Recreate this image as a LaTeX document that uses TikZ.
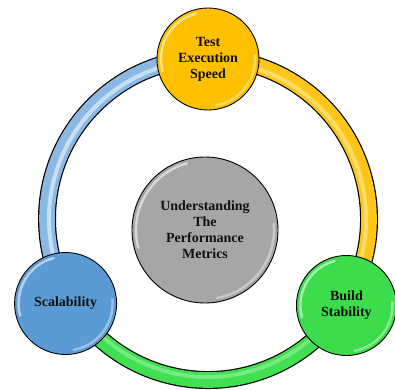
\documentclass[tikz,border=0pt]{standalone}
\usepackage{fontspec}
\setmainfont{Liberation Serif}
\usetikzlibrary{calc}
\definecolor{goldfill}{HTML}{FFC000}
\definecolor{goldring}{HTML}{FFC61A}
\definecolor{goldshine}{HTML}{FFE680}
\definecolor{greenfill}{HTML}{3CDC4C}
\definecolor{greenring}{HTML}{40E050}
\definecolor{greenshine}{HTML}{A8F5B0}
\definecolor{bluefill}{HTML}{5B9BD5}
\definecolor{bluering}{HTML}{8CB8E4}
\definecolor{blueshine}{HTML}{DDEBF8}
\definecolor{grayfill}{HTML}{A6A6A6}
\definecolor{inktext}{HTML}{101010}
\begin{document}
\begin{tikzpicture}[x=1pt,y=1pt,
  ballnode/.style={circle, draw=black, line width=0.9pt, minimum size=102pt,
    inner sep=0pt, align=center, text=inktext,
    font=\fontsize{14}{16}\selectfont\bfseries},
  hubnode/.style={ballnode, minimum size=146pt},
  ringedge/.style={line width=18pt, draw=black},
  ringfill/.style={line width=15.6pt},
  ringshine/.style={line width=4pt, opacity=0.75},
  gloss/.style={draw=white, line width=2.4pt, line cap=round, opacity=0.55}]
\useasboundingbox (0,0) rectangle (395,389);

% ring centre and the three satellite positions on it
\coordinate (ringc) at (208,170);
\path (ringc) ++(90:161) coordinate (ctop);
\path (ringc) ++(210:161) coordinate (cleft);
\path (ringc) ++(330:161) coordinate (cright);

% ring: blue on the left, gold on the right, green along the bottom
\draw[ringedge] (ctop) arc[start angle=90, end angle=210, radius=161];
\draw[ringfill, bluering] (ctop) arc[start angle=90, end angle=210, radius=161];
\draw[ringshine, blueshine] (ringc) ++(100:159) arc[start angle=100, end angle=200, radius=159];

\draw[ringedge] (cright) arc[start angle=-30, end angle=90, radius=161];
\draw[ringfill, goldring] (cright) arc[start angle=-30, end angle=90, radius=161];
\draw[ringshine, goldshine] (ringc) ++(-20:158) arc[start angle=-20, end angle=80, radius=158];

\draw[ringedge] (cleft) arc[start angle=210, end angle=330, radius=161];
\draw[ringfill, greenring] (cleft) arc[start angle=210, end angle=330, radius=161];
\draw[ringshine, greenshine, opacity=0.5] (ringc) ++(220:158) arc[start angle=220, end angle=320, radius=158];

% the four discs
\node[ballnode, fill=goldfill] (speed) at ($(ctop)+(0,-1)$) {Test\\Execution\\Speed};
\node[ballnode, fill=bluefill] (scale) at ($(cleft)+(-3,-4)$) {Scalability};
\node[ballnode, fill=greenfill, minimum size=100pt] (build) at ($(cright)+(-1,-6)$) {Build\\Stability};
\node[hubnode, fill=grayfill] (hub) at (205,159) {Understanding\\The\\Performance\\Metrics};

% glossy rims on each disc
\foreach \n/\r in {speed/47, scale/47, build/46, hub/69}{
  \draw[gloss] (\n.center) ++(105:\r) arc[start angle=105, end angle=195, radius=\r];
  \draw[gloss, opacity=0.4] (\n.center) ++(-80:\r) arc[start angle=-80, end angle=5, radius=\r];
}
\end{tikzpicture}
\end{document}
